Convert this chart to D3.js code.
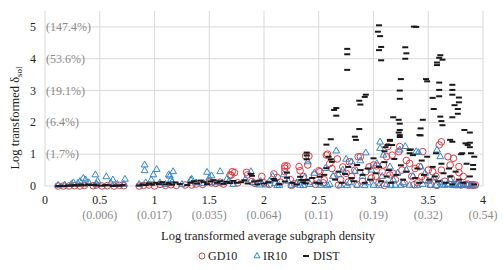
<!DOCTYPE html>
<html>
<head>
<meta charset="utf-8">
<script src="https://cdn.jsdelivr.net/npm/d3@7"></script>
<style>
  body { margin: 0; background: #fff; }
  text { font-family: "Liberation Serif", "Times New Roman", serif; }
</style>
</head>
<body>
<script>
var width = 504, height = 270;
var xTicks = [0, 0.5, 1, 1.5, 2, 2.5, 3, 3.5, 4];
var xSubLabels = ["", "(0.006)", "(0.017)", "(0.035)", "(0.064)", "(0.11)", "(0.19)", "(0.32)", "(0.54)"];
var yTicks = [0, 1, 2, 3, 4, 5];
var ySubLabels = ["", "(1.7%)", "(6.4%)", "(19.1%)", "(53.6%)", "(147.4%)"];

// GD10 - red circles
var gd10 = [[0.12,0.0],[0.17,0.0],[0.22,0.0],[0.27,0.01],[0.32,0.0],[0.36,0.02],[0.44,0.01],[0.47,0.03],[0.52,0.0],[0.57,0.01],[0.63,0.0],[0.68,0.02],[0.72,0.01],
  [0.86,0.0],[0.9,0.02],[0.95,0.03],[1.0,0.0],[1.05,0.05],[1.1,0.02],[1.15,0.04],[1.2,0.02],[1.28,0.03],[1.34,0.03],[1.38,0.06],[1.44,0.05],[1.5,0.14],[1.52,0.1],[1.56,0.08],[1.6,0.12],[1.63,0.06],[1.69,0.35],[1.71,0.45],[1.73,0.42],[1.7,0.34],[1.76,0.1],[1.84,0.43],[1.85,0.35],[1.89,0.14],[1.92,0.08],
  [1.98,0.3],[2.0,0.1],[2.05,0.05],[2.09,0.38],[2.12,0.27],[2.15,0.12],[2.19,0.63],[2.19,0.56],[2.19,0.45],[2.21,0.63],[2.24,0.2],[2.28,0.08],[2.32,0.61],[2.33,0.48],[2.36,0.3],[2.38,0.94],[2.41,0.94],[2.4,0.66],[2.43,0.15],[2.46,0.35],[2.5,0.48],[2.51,0.45],[2.55,0.2],[2.57,0.97],[2.58,1.0],[2.6,0.7],[2.62,0.55],[2.64,0.3],
  [2.67,0.85],[2.7,0.2],[2.72,0.6],[2.75,0.4],[2.78,0.76],[2.8,0.3],[2.83,0.5],[2.86,0.92],[2.88,0.92],[2.9,0.15],[2.93,0.45],[2.96,0.6],[3.0,0.66],[3.02,0.3],[3.03,0.63],[3.05,0.1],[3.08,0.45],[3.09,0.66],[3.12,0.92],[3.13,1.24],[3.15,0.35],[3.17,0.97],[3.2,0.2],[3.23,1.08],[3.24,1.24],[3.26,0.5],[3.28,0.08],[3.3,0.8],[3.33,0.71],[3.35,0.3],[3.38,0.55],[3.4,0.1],[3.42,0.61],[3.45,1.08],[3.47,0.2],[3.5,0.5],[3.52,0.05],[3.54,0.45],[3.57,0.3],[3.6,1.29],[3.62,1.39],[3.62,0.5],[3.65,0.15],[3.68,0.92],[3.7,0.66],[3.71,0.24],[3.73,0.87],[3.75,0.05],[3.78,0.61],[3.78,0.42],[3.8,0.03],[3.82,0.3],[3.84,0.05],[3.87,0.02],[3.9,0.04],[3.93,0.03],
  [2.25,0.02],[2.47,0.05],[2.68,0.03],[2.85,0.05],[3.1,0.02],[3.37,0.04],[3.58,0.02],[2.98,0.25],[3.18,0.4],[3.44,0.3],[3.77,0.05],[3.86,0.06],[3.91,0.02],[2.77,0.12],[2.54,0.1]];

// IR10 - blue triangles
var ir10 = [[0.12,0.02],[0.18,0.03],[0.24,0.05],[0.26,0.1],[0.3,0.08],[0.32,0.14],[0.35,0.24],[0.37,0.19],[0.4,0.1],[0.46,0.35],[0.47,0.06],[0.48,0.15],[0.56,0.29],[0.6,0.1],[0.62,0.19],[0.66,0.05],[0.73,0.21],[0.72,0.05],
  [0.86,0.05],[0.91,0.66],[0.91,0.48],[0.92,0.1],[0.97,0.19],[0.99,0.35],[1.02,0.52],[1.05,0.1],[1.1,0.05],[1.13,0.35],[1.14,0.31],[1.15,0.2],[1.17,0.45],[1.16,0.12],[1.25,0.05],[1.33,0.19],[1.34,0.21],[1.38,0.1],[1.45,0.08],[1.48,0.43],[1.5,0.25],[1.52,0.32],[1.55,0.1],[1.6,0.45],[1.62,0.1],[1.66,0.21],[1.68,0.15],[1.72,0.05],[1.83,0.21],[1.88,0.45],[1.9,0.1],[1.97,0.14],[1.96,0.03],
  [2.02,0.03],[2.05,0.15],[2.08,0.3],[2.1,0.08],[2.14,0.02],[2.18,0.35],[2.22,0.15],[2.25,0.02],[2.3,0.1],[2.33,0.02],[2.37,0.25],[2.4,0.76],[2.42,0.05],[2.46,0.4],[2.5,0.1],[2.52,0.02],[2.56,0.55],[2.6,0.05],[2.63,0.3],[2.66,1.1],[2.68,0.35],[2.7,0.02],[2.72,0.5],[2.75,0.84],[2.78,0.1],[2.8,0.76],[2.83,0.45],[2.85,0.02],[2.88,0.79],[2.9,0.3],[2.93,1.04],[2.95,0.1],[2.98,0.5],[3.0,0.02],[3.03,0.7],[3.06,1.38],[3.06,1.18],[3.08,0.3],[3.09,0.97],[3.12,0.05],[3.15,0.6],[3.18,0.2],[3.2,0.02],[3.22,0.4],[3.24,1.13],[3.27,0.1],[3.29,1.24],[3.3,0.5],[3.33,0.02],[3.36,0.3],[3.39,1.08],[3.41,1.05],[3.43,0.6],[3.45,0.05],[3.47,0.4],[3.5,0.15],[3.52,0.02],[3.55,0.25],[3.58,1.13],[3.61,0.92],[3.62,0.1],[3.65,0.02],[3.68,0.05],[3.7,0.2],[3.72,0.02],[3.75,0.03],[3.78,0.01],[3.8,0.04],[3.83,0.02],[3.86,0.01],[3.89,0.03],[3.92,0.02],
  [2.12,0.01],[2.36,0.01],[2.58,0.01],[2.76,0.01],[2.92,0.01],[3.05,0.01],[3.16,0.01],[3.25,0.02],[3.4,0.01],[3.57,0.01],[3.63,0.03],[3.74,0.01]];

// DIST - black dashes
var dist = [[3.05,5.05],[3.04,4.85],[3.06,4.71],[3.37,5.01],[3.39,5.0],[2.76,4.31],[2.76,4.14],[2.76,3.65],[3.07,4.37],[3.05,4.27],[3.07,3.95],[3.29,4.36],[3.30,4.17],[3.29,4.0],[3.61,4.11],[3.60,4.03],[3.63,3.97],[3.58,3.88],[3.58,3.80],[3.25,3.36],[3.48,3.36],[3.49,3.29],[3.60,3.25],[3.72,3.18],[3.24,3.0],[3.60,3.02],[3.72,3.02],[3.72,2.87],[3.60,2.82],[3.78,2.78],[3.54,2.77],[2.93,2.87],[2.92,2.80],[3.24,2.74],[2.87,2.68],[2.88,2.56],[2.66,2.45],[2.64,2.39],[2.66,2.21],[3.55,2.42],[3.78,2.63],[3.74,2.54],[3.77,2.42],[3.77,2.27],[3.72,2.16],[3.61,2.18],[3.62,2.04],[3.63,1.91],[3.18,2.16],[3.23,2.08],[3.24,1.96],[3.45,2.08],[3.43,1.81],[3.43,1.59],[2.87,1.79],[2.83,1.55],[2.84,1.45],[2.57,1.30],[2.61,1.47],[3.23,1.68],[3.24,1.54],[3.15,1.45],[3.17,1.29],[3.11,1.22],[3.10,1.09],[3.34,1.15],[3.33,1.03],[3.83,1.76],[3.88,1.68],[3.70,1.45],[3.72,1.39],[3.88,1.36],[3.86,1.29],[3.88,1.22],[3.81,1.03],[3.89,1.03],[3.92,0.92],[3.91,0.66],[3.91,0.53],[2.39,1.05],[2.39,0.96],[2.39,0.84],
  [3.24,1.76],[3.24,1.60],[3.42,1.60],[3.15,1.42],[3.13,1.29],[3.84,1.34],
  [0.12,0.0],[0.15,0.01],[0.18,0.0],[0.21,0.02],[0.24,0.01],[0.27,0.03],[0.3,0.01],[0.33,0.04],[0.36,0.02],[0.39,0.05],[0.42,0.03],[0.45,0.04],[0.47,0.02],[0.52,0.01],[0.55,0.03],[0.58,0.02],[0.62,0.0],[0.65,0.02],[0.68,0.01],[0.71,0.03],
  [0.86,0.02],[0.89,0.05],[0.92,0.03],[0.95,0.08],[0.98,0.04],[1.01,0.1],[1.04,0.06],[1.07,0.12],[1.1,0.05],[1.13,0.09],[1.16,0.04],[1.19,0.11],[1.23,0.06],[1.3,0.03],[1.33,0.1],[1.36,0.15],[1.39,0.08],[1.42,0.17],[1.45,0.12],[1.48,0.06],[1.51,0.14],[1.54,0.18],[1.57,0.1],[1.6,0.15],[1.63,0.07],[1.66,0.13],[1.69,0.09],[1.72,0.16],[1.75,0.1],[1.79,0.12],[1.82,0.18],[1.85,0.08],[1.88,0.38],[1.89,0.32],[1.91,0.14],[1.94,0.05],
  [1.96,0.17],[2.0,0.08],[2.04,0.12],[2.09,0.22],[2.1,0.17],[2.14,0.06],[2.19,0.14],[2.21,0.42],[2.21,0.26],[2.26,0.1],[2.3,0.05],[2.33,0.29],[2.34,0.19],[2.36,0.12],[2.39,0.19],[2.38,0.08],[2.44,0.25],[2.48,0.1],[2.51,0.29],[2.51,0.08],[2.55,0.35],[2.57,0.56],[2.59,0.92],[2.61,0.84],[2.62,0.76],[2.65,0.2],[2.68,0.45],[2.71,0.1],[2.74,0.38],[2.77,0.6],[2.8,0.25],[2.82,0.15],[2.85,0.66],[2.88,0.5],[2.9,0.35],[2.92,0.1],[2.95,0.55],[2.97,0.2],[3.0,0.87],[3.02,0.4],[3.05,0.6],[3.07,0.15],[3.1,0.75],[3.12,0.3],[3.14,0.5],[3.16,0.1],[3.19,0.85],[3.21,0.35],[3.25,0.65],[3.27,0.2],[3.3,0.45],[3.33,1.13],[3.36,0.97],[3.38,0.25],[3.4,0.55],[3.42,0.1],[3.44,0.8],[3.46,0.35],[3.49,0.92],[3.51,0.2],[3.54,0.6],[3.57,1.03],[3.56,0.3],[3.59,0.15],[3.62,0.7],[3.64,0.4],[3.66,0.1],[3.69,0.55],[3.7,0.3],[3.72,0.05],[3.75,0.45],[3.78,0.2],[3.8,1.0],[3.85,0.7],[3.82,0.1],[3.88,0.3],[3.92,0.05]];

var red = "#e0393e", blue = "#2f86d0", dark = "#1a1a1a", grid = "#d9d9d9";

var svg = d3.select("body").append("svg").attr("width", width).attr("height", height);

var x = d3.scaleLinear().domain([0, 4]).range([45, 483]);
var y = d3.scaleLinear().domain([0, 5.5]).range([186, 11]);

// grid
svg.append("g").selectAll("line").data(xTicks).enter().append("line")
  .attr("x1", d => x(d)).attr("x2", d => x(d)).attr("y1", y(5.5)).attr("y2", y(0))
  .attr("stroke", grid).attr("stroke-width", 1);
svg.append("g").selectAll("line").data(yTicks).enter().append("line")
  .attr("x1", x(0)).attr("x2", x(4)).attr("y1", d => y(d)).attr("y2", d => y(d))
  .attr("stroke", grid).attr("stroke-width", 1);

// y labels
svg.append("g").selectAll("text").data(yTicks).enter().append("text")
  .attr("x", 36).attr("y", d => y(d) + 4).attr("text-anchor", "end")
  .attr("font-size", 12).attr("fill", "#222").text(d => d);
svg.append("g").selectAll("text").data(yTicks).enter().append("text")
  .attr("x", 46).attr("y", d => y(d) + 4)
  .attr("font-size", 12).attr("fill", "#8a8a8a").text((d, i) => ySubLabels[i]);

// x labels
svg.append("g").selectAll("text").data(xTicks).enter().append("text")
  .attr("x", d => x(d)).attr("y", 204).attr("text-anchor", "middle")
  .attr("font-size", 12).attr("fill", "#222").text(d => d);
svg.append("g").selectAll("text").data(xTicks).enter().append("text")
  .attr("x", d => x(d)).attr("y", 219).attr("text-anchor", "middle")
  .attr("font-size", 12).attr("fill", "#8a8a8a").text((d, i) => xSubLabels[i]);

// axis titles
svg.append("text").attr("x", 268).attr("y", 240).attr("text-anchor", "middle")
  .attr("font-size", 12.5).attr("fill", "#222").text("Log transformed average subgraph density");
var yt = svg.append("text").attr("transform", "translate(19,118) rotate(-90)")
  .attr("text-anchor", "middle").attr("font-size", 12.5).attr("fill", "#222");
yt.append("tspan").text("Log transformed \u03b4");
yt.append("tspan").attr("font-size", 9).attr("dy", 3).text("sol");

// markers
var tri = d3.symbol().type(d3.symbolTriangle).size(20);

svg.append("g").selectAll("circle").data(gd10).enter().append("circle")
  .attr("cx", d => x(d[0])).attr("cy", d => y(d[1])).attr("r", 3.3)
  .attr("fill", "none").attr("stroke", red).attr("stroke-width", 1);

svg.append("g").selectAll("path").data(ir10).enter().append("path")
  .attr("d", tri).attr("transform", d => "translate(" + x(d[0]) + "," + y(d[1]) + ")")
  .attr("fill", "none").attr("stroke", blue).attr("stroke-width", 1);

svg.append("g").selectAll("rect").data(dist).enter().append("rect")
  .attr("x", d => x(d[0]) - 3).attr("y", d => y(d[1]) - 1).attr("width", 6).attr("height", 2)
  .attr("fill", dark);

// legend
var lg = svg.append("g").attr("transform", "translate(0,256)");
lg.append("circle").attr("cx", 202).attr("cy", 0).attr("r", 3)
  .attr("fill", "none").attr("stroke", red);
lg.append("text").attr("x", 208).attr("y", 4).attr("font-size", 12).attr("fill", "#222").text("GD10");
lg.append("path").attr("d", d3.symbol().type(d3.symbolTriangle).size(16)).attr("transform", "translate(257,0)")
  .attr("fill", "none").attr("stroke", blue);
lg.append("text").attr("x", 263).attr("y", 4).attr("font-size", 12).attr("fill", "#222").text("IR10");
lg.append("rect").attr("x", 303).attr("y", -1).attr("width", 6).attr("height", 2).attr("fill", dark);
lg.append("text").attr("x", 313).attr("y", 4).attr("font-size", 12).attr("fill", "#222").text("DIST");
</script>
</body>
</html>
